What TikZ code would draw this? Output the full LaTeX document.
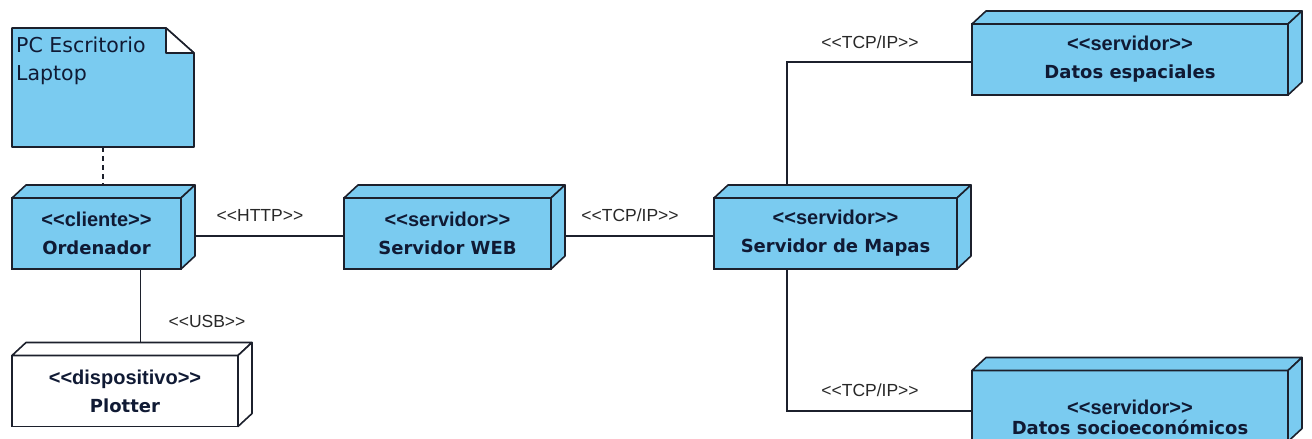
\documentclass[tikz,border=0pt]{standalone}
\usepackage{fontspec}
\newfontfamily\stereofont[Ligatures=TeXOff]{Liberation Sans}
\newfontfamily\namefont[Ligatures=TeXOff]{DejaVu Sans}
\newfontfamily\labelfont[Ligatures=TeXOff]{Liberation Sans}
\newfontfamily\notefont[Ligatures=TeXOff]{DejaVu Sans}
\usetikzlibrary{calc}
\pgfdeclarelayer{paper}
\pgfdeclarelayer{background}
\pgfsetlayers{paper,background,main}

\definecolor{nodeblue}{RGB}{122,203,240}
\definecolor{linec}{RGB}{28,32,44}
\definecolor{textc}{RGB}{16,26,52}
\definecolor{labelc}{RGB}{40,40,40}

\tikzset{
  front/.style={draw=linec, line width=1.6pt, minimum height=71, inner sep=0pt,
    outer sep=0pt, align=center, text=textc, font=\fontsize{18}{28}\selectfont},
  face/.style={draw=linec, line width=1.6pt, line join=round},
  conn/.style={draw=linec, line width=1.2pt},
  conlabel/.style={font=\labelfont\fontsize{17.5}{20}\selectfont, text=labelc, inner sep=0pt},
  notebox/.style={draw=none, inner sep=0pt, outer sep=0pt},
  notetext/.style={font=\notefont\fontsize{20.5}{28}\selectfont, text=textc,
    inner sep=0pt, align=left},
}

% stereotype line and name line of a deployment node
\newcommand\stereo[1]{{\stereofont\bfseries\fontsize{20}{28}\selectfont #1}}
\newcommand\nodename[1]{{\namefont\bfseries\fontsize{18}{28}\selectfont #1}}

% a UML node drawn as a box with top and side faces
% #1 name, #2 x, #3 y, #4 width, #5 fill, #6 text
\newcommand\cubenode[6]{%
  \node[front, fill=#5, minimum width=#4] (#1) at (#2,#3) {#6};
  \filldraw[face, fill=#5] (#1.north west) -- ++(14,-13)
    -- ([shift={(14,-13)}]#1.north east) -- (#1.north east) -- cycle;
  \filldraw[face, fill=#5] (#1.north east) -- ++(14,-13)
    -- ([shift={(14,-13)}]#1.south east) -- (#1.south east) -- cycle;
  \coordinate (#1-top) at ([shift={(7,-13)}]#1.north);
}

\begin{document}
\begin{tikzpicture}[x=1pt, y=-1pt]
\clip (0,0) rectangle (1312,439);
\begin{pgfonlayer}{paper}
  \fill[white] (0,0) rectangle (1312,439);
\end{pgfonlayer}

% note attached to the client node
\node[notebox, minimum width=182, minimum height=119] (note) at (103,87.5) {};
\filldraw[face, fill=nodeblue] (note.north west) -- ([shift={(-28,0)}]note.north east)
  -- ([shift={(0,25)}]note.north east) -- (note.south east) -- (note.south west) -- cycle;
\filldraw[face, fill=white] ([shift={(-28,0)}]note.north east)
  -- ([shift={(-28,25)}]note.north east) -- ([shift={(0,25)}]note.north east) -- cycle;
\node[notetext, anchor=north west] (notelbl) at ([shift={(4,9)}]note.north west)
  {PC Escritorio\\Laptop};

% deployment nodes
\cubenode{ord}{96.5}{233.5}{169}{nodeblue}{\stereo{<<cliente>>}\\\nodename{Ordenador}}
\cubenode{plot}{125}{391}{226}{white}{\stereo{<<dispositivo>>}\\\nodename{Plotter}}
\cubenode{web}{447.5}{233.5}{207}{nodeblue}{\stereo{<<servidor>>}\\\nodename{Servidor WEB}}
\cubenode{mapas}{835.5}{233.5}{243}{nodeblue}{\stereo{<<servidor>>}\\\nodename{Servidor de Mapas}}
\cubenode{esp}{1130}{59.5}{316}{nodeblue}{\stereo{<<servidor>>}\\\nodename{Datos espaciales}}
\cubenode{soc}{1130}{406}{316}{nodeblue}{}
\node[align=center, text=textc, inner sep=0pt, font=\fontsize{18}{20}\selectfont]
  (soclbl) at (1130,417) {\stereo{<<servidor>>}\\\nodename{Datos socioecon\'omicos}};

% connectors
\begin{pgfonlayer}{background}
  \draw[conn, dashed, dash pattern=on 5pt off 4pt] (note.south) -- (note.south |- ord-top);
  \draw[conn] ([shift={(0,2.5)}]ord.east) -- ([shift={(0,2.5)}]web.west);
  \draw[conn] ([shift={(0,2.5)}]web.east) -- ([shift={(0,2.5)}]mapas.west);
  \draw[conn] ([shift={(44,0)}]ord.south) -- ([shift={(44,0)}]ord.south |- plot-top);
  \draw[conn] ([shift={(-48.5,0)}]mapas.north) |- ([shift={(0,2.5)}]esp.west);
  \draw[conn] ([shift={(-48.5,0)}]mapas.south) |- ([shift={(0,5)}]soc.west);
\end{pgfonlayer}

% connector labels
\node[conlabel] (lhttp) at (260,215) {<<HTTP>>};
\node[conlabel] (ltcp) at (630,215) {<<TCP/IP>>};
\node[conlabel] (lusb) at (207,321) {<<USB>>};
\node[conlabel] (ltcpup) at (870,42) {<<TCP/IP>>};
\node[conlabel] (ltcpdown) at (870,390) {<<TCP/IP>>};
\end{tikzpicture}
\end{document}
